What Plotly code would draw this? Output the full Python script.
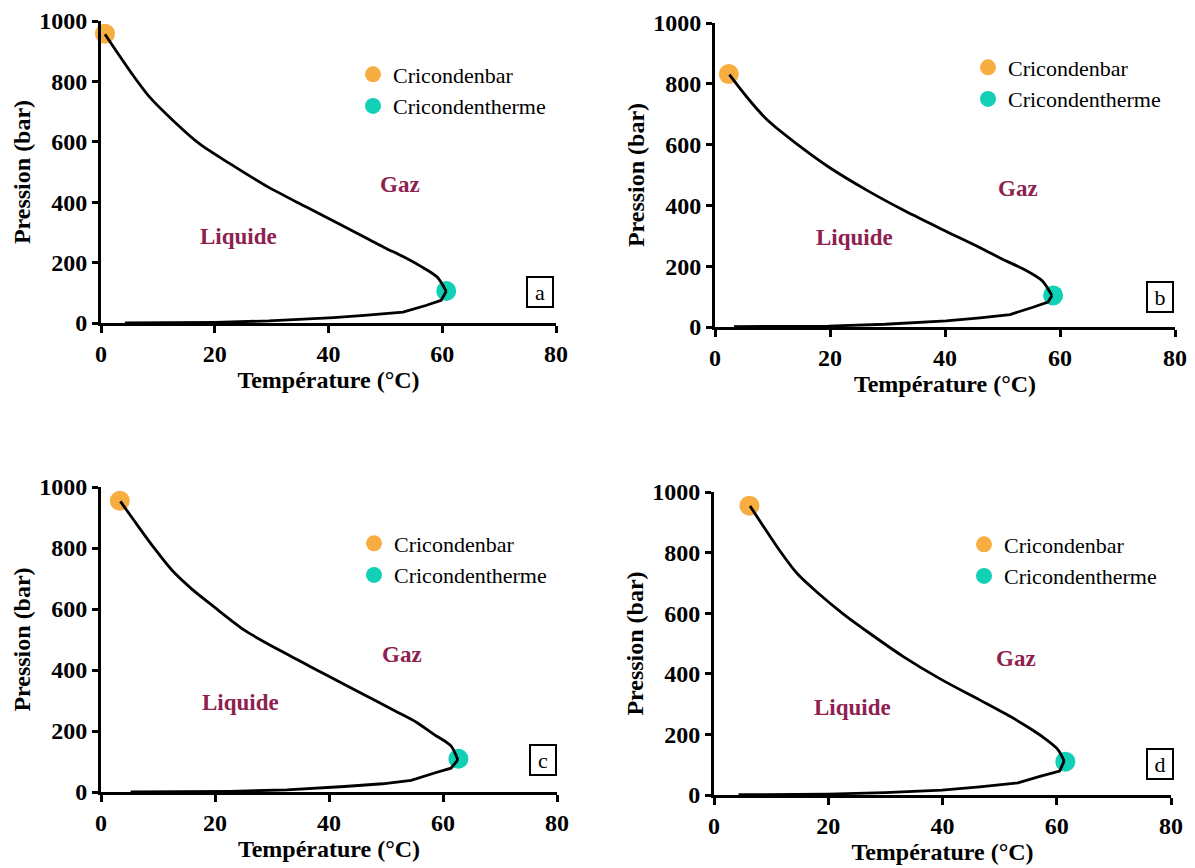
import plotly.graph_objects as go

# ---------------- data ----------------
# panel a
a_T = [0.7, 5.3, 8.6, 12.7, 17.4, 22.8, 29.5, 36.2, 43.0, 49.7, 53.1, 56.1, 59.1, 60.7,
       59.8, 57.1, 53.1, 46.3, 40.9, 29.5, 20.1, 4.2]
a_P = [956, 829, 747, 670, 592, 526, 449, 383, 317, 251, 220, 189, 152, 105,
       75, 58, 36, 25, 18, 7, 2, 0]
a_bar = (0.7, 958)
a_therm = (60.7, 106)

# panel b
b_T = [2.5, 5.6, 9.2, 14.5, 19.7, 26.3, 32.9, 39.5, 46.1, 50.0, 53.7, 56.9, 58.6,
       57.9, 55.3, 51.3, 46.1, 40.2, 29.6, 19.7, 3.3]
b_P = [830, 755, 679, 598, 527, 451, 383, 321, 261, 223, 190, 152, 103,
       82, 65, 41, 30, 20, 9, 3, 1]
b_bar = (2.4, 832)
b_therm = (58.8, 104)

# panel c
c_T = [3.4, 5.8, 9.2, 12.5, 15.9, 19.9, 25.3, 32.0, 38.7, 45.4, 52.1, 55.4, 58.4, 61.4,
       62.6, 61.4, 58.8, 54.4, 49.4, 42.7, 32.6, 22.6, 5.2]
c_P = [953, 890, 803, 726, 666, 606, 529, 458, 392, 326, 261, 228, 189, 151,
       105, 78, 64, 38, 27, 18, 7, 2, 0]
c_bar = (3.3, 955)
c_therm = (62.7, 109)

# panel d
d_T = [6.3, 8.6, 11.3, 14.6, 18.0, 22.6, 27.3, 33.2, 39.9, 46.5, 51.9, 55.2, 57.8, 60.2,
       61.3, 60.5, 57.2, 53.2, 46.5, 39.9, 29.9, 19.9, 4.3]
d_P = [954, 888, 812, 730, 670, 598, 533, 456, 380, 314, 259, 221, 188, 150,
       112, 79, 62, 40, 27, 16, 8, 3, 1]
d_bar = (6.2, 955)
d_therm = (61.5, 110)

panel_labels = ["a", "b", "c", "d"]
x_ticks = [0, 20, 40, 60, 80]
y_ticks = [0, 200, 400, 600, 800, 1000]

# ---------------- styling ----------------
W, H = 1195, 868
ORANGE = "#F8AD41"
TEAL = "#12D0B6"
MAROON = "#8E1F4F"
SERIF = "Liberation Serif, Times New Roman, serif"

# pixel boxes of the four plot areas: (left, right, top, bottom)
boxes = [(101, 556, 21, 323), (715, 1175, 23, 327), (101, 557, 487, 792), (714, 1171, 492, 795)]
# legend marker pixel positions (first item)
leg_px = [(372, 75), (987, 68), (373, 544), (983, 545)]
# annotation data positions: Gaz, Liquide, box
gaz_pos = [(52.5, 457), (52.7, 457), (52.8, 452), (52.9, 452)]
liq_pos = [(24.1, 288), (24.2, 293), (24.4, 292), (24.2, 290)]
box_pos = [(77.2, 103), (77.4, 99), (77.5, 105), (78.1, 102)]

panels = [
    (a_T, a_P, a_bar, a_therm),
    (b_T, b_P, b_bar, b_therm),
    (c_T, c_P, c_bar, c_therm),
    (d_T, d_P, d_bar, d_therm),
]

fig = go.Figure()
layout = dict(
    width=W, height=H, margin=dict(l=0, r=0, t=0, b=0, pad=0, autoexpand=False),
    paper_bgcolor="white", plot_bgcolor="white", showlegend=True,
    font=dict(family=SERIF, color="black"),
)
annotations = []

for i, (T, P, bar, therm) in enumerate(panels):
    n = "" if i == 0 else str(i + 1)
    xa, ya = "x" + n, "y" + n
    leg = "legend" + n
    l, r, t, b = boxes[i]
    layout["xaxis" + n] = dict(
        domain=[l / W, r / W], anchor=ya, range=[0, 80], tickvals=x_ticks,
        showline=True, linewidth=3, linecolor="black", mirror=False,
        ticks="outside", ticklen=7, tickwidth=3, tickcolor="black",
        showgrid=False, zeroline=False, automargin=False,
        tickfont=dict(family=SERIF, size=24, weight="bold", color="black"),
        title=dict(text="Température (°C)", standoff=6,
                   font=dict(family=SERIF, size=24, weight="bold", color="black")),
    )
    layout["yaxis" + n] = dict(
        domain=[1 - b / H, 1 - t / H], anchor=xa, range=[0, 1000], tickvals=y_ticks,
        showline=True, linewidth=3, linecolor="black",
        ticks="outside", ticklen=6, tickwidth=3, tickcolor="black",
        showgrid=False, zeroline=False, automargin=False,
        tickfont=dict(family=SERIF, size=24, weight="bold", color="black"),
        title=dict(text="Pression (bar)", standoff=2,
                   font=dict(family=SERIF, size=24, weight="bold", color="black")),
    )
    mx, my = leg_px[i]
    layout[leg] = dict(
        x=(mx - 19) / W, y=1 - (my - 21.5) / H, xanchor="left", yanchor="top",
        bgcolor="rgba(0,0,0,0)", borderwidth=0,
        font=dict(family=SERIF, size=22, color="black"),
    )
    fig.add_trace(go.Scatter(
        x=[bar[0]], y=[bar[1]], mode="markers", name="Cricondenbar",
        marker=dict(color=ORANGE, size=20), xaxis=xa, yaxis=ya, legend=leg,
        cliponaxis=False,
    ))
    fig.add_trace(go.Scatter(
        x=[therm[0]], y=[therm[1]], mode="markers", name="Cricondentherme",
        marker=dict(color=TEAL, size=20), xaxis=xa, yaxis=ya, legend=leg,
        cliponaxis=False,
    ))
    # split the envelope at its hottest point: smooth dew branch, polyline bubble branch
    k = T.index(max(T))
    fig.add_trace(go.Scatter(
        x=T[:k + 1], y=P[:k + 1], mode="lines",
        line=dict(color="black", width=2.8, shape="spline", smoothing=0.8),
        showlegend=False, xaxis=xa, yaxis=ya, cliponaxis=False,
    ))
    fig.add_trace(go.Scatter(
        x=T[k:], y=P[k:], mode="lines",
        line=dict(color="black", width=2.8),
        showlegend=False, xaxis=xa, yaxis=ya, cliponaxis=False,
    ))
    annotations.append(dict(
        x=gaz_pos[i][0], y=gaz_pos[i][1], xref=xa, yref=ya, text="Gaz", showarrow=False,
        font=dict(family=SERIF, size=23, weight="bold", color=MAROON)))
    annotations.append(dict(
        x=liq_pos[i][0], y=liq_pos[i][1], xref=xa, yref=ya, text="Liquide", showarrow=False,
        font=dict(family=SERIF, size=23, weight="bold", color=MAROON)))
    annotations.append(dict(
        x=box_pos[i][0], y=box_pos[i][1], xref=xa, yref=ya, text=panel_labels[i],
        showarrow=False, bordercolor="black", borderwidth=2, borderpad=0,
        width=24, height=28, bgcolor="white",
        font=dict(family=SERIF, size=22, color="black")))

layout["annotations"] = annotations
fig.update_layout(**layout)
fig.write_html("out.html", config={"displayModeBar": False},
               post_script="document.body.style.margin='0';")
